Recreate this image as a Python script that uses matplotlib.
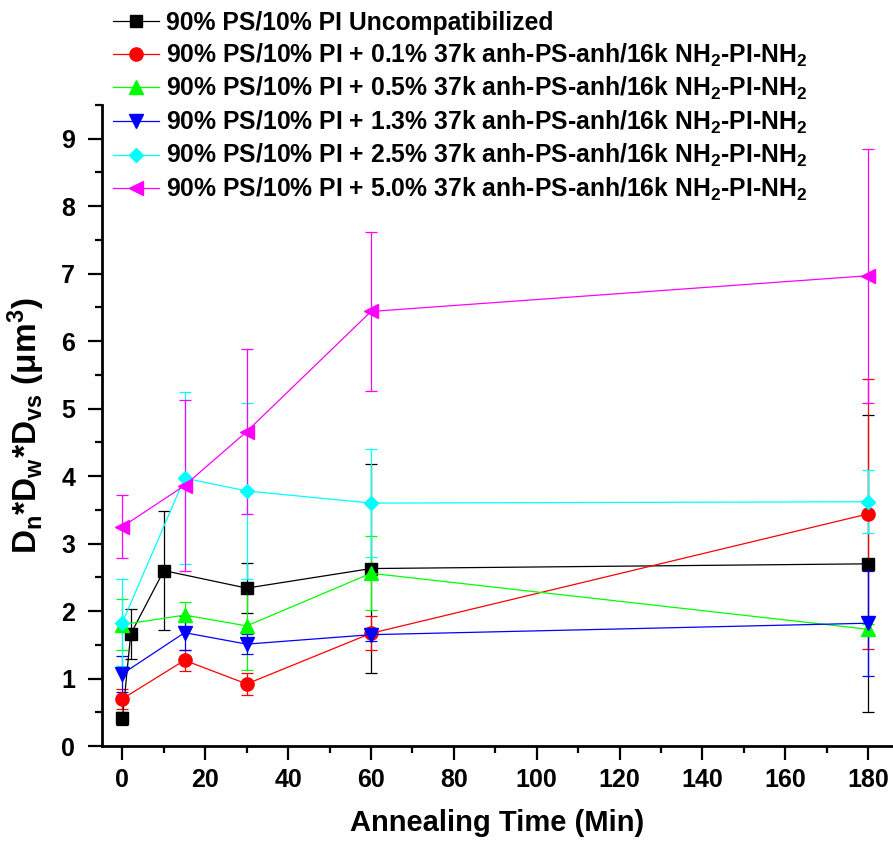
import matplotlib
matplotlib.use("Agg")
import matplotlib.pyplot as plt
from matplotlib.ticker import MultipleLocator

plt.rcParams["font.family"] = ["Liberation Sans", "DejaVu Sans"]
plt.rcParams["font.weight"] = "bold"
plt.rcParams["mathtext.fontset"] = "custom"
plt.rcParams["mathtext.rm"] = "Liberation Sans:bold"
plt.rcParams["mathtext.it"] = "Liberation Sans:bold"
plt.rcParams["mathtext.bf"] = "Liberation Sans:bold"
plt.rcParams["mathtext.default"] = "rm"

# Annealing times (min)
t_uncomp = [0, 2, 10, 30, 60, 180]
t_comp = [0, 15, 30, 60, 180]

# Dn*Dw*Dvs (um^3) with error bars
uncomp = [0.41, 1.66, 2.60, 2.34, 2.63, 2.70]
uncomp_err = [0.10, 0.37, 0.88, 0.37, 1.55, 2.20]
c01 = [0.70, 1.27, 0.92, 1.67, 3.44]
c01_err = [0.15, 0.16, 0.16, 0.25, 2.00]
c05 = [1.80, 1.94, 1.78, 2.56, 1.73]
c05_err = [0.38, 0.19, 0.65, 0.55, 0.08]
c13 = [1.07, 1.68, 1.51, 1.65, 1.82]
c13_err = [0.27, 0.25, 0.15, 0.10, 0.78]
c25 = [1.83, 3.97, 3.78, 3.60, 3.62]
c25_err = [0.65, 1.27, 1.31, 0.80, 0.47]
c50 = [3.25, 3.86, 4.66, 6.44, 6.97]
c50_err = [0.47, 1.27, 1.22, 1.18, 1.88]

tail = " 37k anh-PS-anh/16k NH$_2$-PI-NH$_2$"
labels = [
    "90% PS/10% PI Uncompatibilized",
    "90% PS/10% PI + 0.1%" + tail,
    "90% PS/10% PI + 0.5%" + tail,
    "90% PS/10% PI + 1.3%" + tail,
    "90% PS/10% PI + 2.5%" + tail,
    "90% PS/10% PI + 5.0%" + tail,
]

series = [
    (t_uncomp, uncomp, uncomp_err, "black", "s", 8),
    (t_comp, c01, c01_err, "#ff0000", "o", 9.5),
    (t_comp, c05, c05_err, "#00ff00", "^", 10),
    (t_comp, c13, c13_err, "#0000ff", "v", 10),
    (t_comp, c25, c25_err, "#00ffff", "D", 7.5),
    (t_comp, c50, c50_err, "#ff00ff", "<", 10),
]

fig = plt.figure(figsize=(8.93, 8.44), dpi=100)
ax = fig.add_axes([0.1139, 0.1161, 0.8861, 0.7595])

handles = []
for (x, y, err, col, mk, ms), lab in zip(series, labels):
    cont = ax.errorbar(x, y, yerr=err, color=col, marker=mk, markersize=ms,
                       linewidth=0.9, elinewidth=0.9, capsize=4.5, capthick=0.9,
                       label=lab)
    handles.append(cont[0])

ax.set_xlim(-5, 186)
ax.set_ylim(0, 9.5)
ax.xaxis.set_major_locator(MultipleLocator(20))
ax.xaxis.set_minor_locator(MultipleLocator(10))
ax.yaxis.set_minor_locator(MultipleLocator(0.5))
ax.set_yticks(range(0, 10))

for side in ["top", "right"]:
    ax.spines[side].set_visible(False)
for side in ["left", "bottom"]:
    ax.spines[side].set_linewidth(2)

ax.tick_params(which="major", direction="out", length=10, width=1.6, labelsize=18)
ax.tick_params(which="minor", direction="out", length=5, width=1.6)
ax.tick_params(axis="x", which="major", pad=6)
ax.tick_params(axis="y", which="major", pad=9)

ax.set_xlabel("Annealing Time (Min)", fontsize=21, fontweight="bold", labelpad=12)
ax.set_ylabel("D$_n$*D$_w$*D$_{vs}$ (μm$^3$)", fontsize=24, fontweight="bold", labelpad=10)

fig.legend(handles, labels, loc="upper left", bbox_to_anchor=(0.1265, 0.987),
           frameon=False, fontsize=17.8, numpoints=1, handlelength=1.85,
           handletextpad=0.3, labelspacing=0.26, borderpad=0, borderaxespad=0)

fig.savefig("out.png", dpi=100)
